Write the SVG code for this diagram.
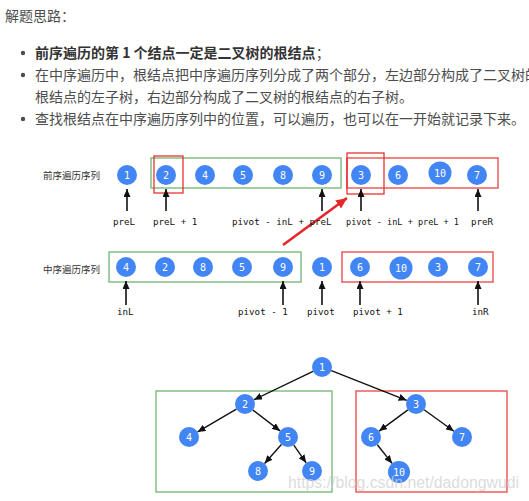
<svg xmlns="http://www.w3.org/2000/svg" width="529" height="501" viewBox="0 0 529 501">
<defs>
<style>
.txt{font-family:"Noto Sans CJK SC","Liberation Sans",sans-serif;font-size:14px;fill:#4d4d4d}
.b{font-weight:bold;fill:#333}
.lab{font-family:"Noto Sans CJK SC","Liberation Sans",sans-serif;font-size:9.5px;fill:#333}
.mono{font-family:"DejaVu Sans Mono","Liberation Mono",monospace;font-size:9.2px;fill:#111}
.nd circle{fill:#4285f4}
.nd text{font-family:"DejaVu Sans Mono","Liberation Mono",monospace;font-size:10px;fill:#fff;text-anchor:middle}
.g{fill:none;stroke:#7cba7b;stroke-width:1.4}
.r{fill:none;stroke:#ec5050;stroke-width:1.4}
.rs{fill:none;stroke:#e52222;stroke-width:1.2}
.e{stroke:#111;stroke-width:1.4;fill:none;marker-end:url(#ah)}
.up{stroke:#111;stroke-width:1.6;fill:none;marker-end:url(#ah)}
</style>
<marker id="ah" markerUnits="userSpaceOnUse" markerWidth="9" markerHeight="7" refX="8" refY="3.5" orient="auto"><path d="M0,0 L8,3.5 L0,7 z" fill="#111"/></marker>
<marker id="ahr" markerUnits="userSpaceOnUse" markerWidth="12" markerHeight="10" refX="11" refY="5" orient="auto"><path d="M0,0 L11,5 L0,10 z" fill="#e8262a"/></marker>
</defs>
<rect width="529" height="501" fill="#fff"/>
<g id="intro">
<text class="txt" x="5" y="21">解题思路：</text>
<circle cx="23" cy="53" r="2.2" fill="#4d4d4d"/>
<text class="txt" x="35" y="58"><tspan class="b">前序遍历的第 1 个结点一定是二叉树的根结点</tspan>；</text>
<circle cx="23" cy="75" r="2.2" fill="#4d4d4d"/>
<text class="txt" x="35" y="80">在中序遍历中，根结点把中序遍历序列分成了两个部分，左边部分构成了二叉树的</text>
<text class="txt" x="35" y="102">根结点的左子树，右边部分构成了二叉树的根结点的右子树。</text>
<circle cx="23" cy="119" r="2.2" fill="#4d4d4d"/>
<text class="txt" x="35" y="124">查找根结点在中序遍历序列中的位置，可以遍历，也可以在一开始就记录下来。</text>
</g>
<g id="labels">
<text class="lab" x="43" y="178.5">前序遍历序列</text>
<text class="lab" x="43" y="272.5">中序遍历序列</text>
</g>
<g id="boxes">
<rect class="g" x="151" y="158" width="190" height="30"/>
<rect class="r" x="347" y="158" width="151" height="30"/>
<rect class="rs" x="154" y="156" width="29" height="37"/>
<rect class="rs" x="347" y="153" width="37" height="41"/>
<rect class="g" x="109" y="252" width="192" height="30"/>
<rect class="r" x="342" y="252" width="151" height="30"/>
<rect class="g" x="156" y="391" width="176" height="101"/>
<rect class="r" x="356" y="391" width="151" height="101"/>
</g>
<g id="pre-nodes" class="nd">
<g id="p1"><circle cx="127" cy="175" r="10"/><text x="127" y="178.5">1</text></g>
<g id="p2"><circle cx="166" cy="175" r="10"/><text x="166" y="178.5">2</text></g>
<g id="p4"><circle cx="205" cy="175" r="10"/><text x="205" y="178.5">4</text></g>
<g id="p5"><circle cx="243" cy="175" r="10"/><text x="243" y="178.5">5</text></g>
<g id="p8"><circle cx="283" cy="175" r="10"/><text x="283" y="178.5">8</text></g>
<g id="p9"><circle cx="322" cy="175" r="10"/><text x="322" y="178.5">9</text></g>
<g id="p3"><circle cx="361" cy="175" r="10"/><text x="361" y="178.5">3</text></g>
<g id="p6"><circle cx="398" cy="175" r="10"/><text x="398" y="178.5">6</text></g>
<g id="p10"><circle cx="440" cy="173" r="11.5"/><text x="440" y="176.5">10</text></g>
<g id="p7"><circle cx="477" cy="175" r="10"/><text x="477" y="178.5">7</text></g>
</g>
<g id="in-nodes" class="nd">
<g id="i4"><circle cx="126" cy="267" r="10"/><text x="126" y="270.5">4</text></g>
<g id="i2"><circle cx="165" cy="267" r="10"/><text x="165" y="270.5">2</text></g>
<g id="i8"><circle cx="203" cy="267" r="10"/><text x="203" y="270.5">8</text></g>
<g id="i5"><circle cx="242" cy="267" r="10"/><text x="242" y="270.5">5</text></g>
<g id="i9"><circle cx="283" cy="267" r="10"/><text x="283" y="270.5">9</text></g>
<g id="i1"><circle cx="322" cy="267" r="10"/><text x="322" y="270.5">1</text></g>
<g id="i6"><circle cx="360" cy="267" r="10"/><text x="360" y="270.5">6</text></g>
<g id="i10"><circle cx="401" cy="268" r="11.5"/><text x="401" y="271.5">10</text></g>
<g id="i3"><circle cx="438" cy="267" r="10"/><text x="438" y="270.5">3</text></g>
<g id="i7"><circle cx="478" cy="267" r="10"/><text x="478" y="270.5">7</text></g>
</g>
<g id="tree-nodes" class="nd">
<g id="t1"><circle cx="322" cy="367" r="10"/><text x="322" y="370.5">1</text></g>
<g id="t2"><circle cx="245" cy="404" r="10"/><text x="245" y="407.5">2</text></g>
<g id="t4"><circle cx="189" cy="437" r="10"/><text x="189" y="440.5">4</text></g>
<g id="t5"><circle cx="288" cy="437" r="10"/><text x="288" y="440.5">5</text></g>
<g id="t8"><circle cx="258" cy="471" r="10"/><text x="258" y="474.5">8</text></g>
<g id="t9"><circle cx="312" cy="471" r="10"/><text x="312" y="474.5">9</text></g>
<g id="t3"><circle cx="416" cy="404" r="10"/><text x="416" y="407.5">3</text></g>
<g id="t6"><circle cx="371" cy="437" r="10"/><text x="371" y="440.5">6</text></g>
<g id="t7"><circle cx="462" cy="437" r="10"/><text x="462" y="440.5">7</text></g>
<g id="t10"><circle cx="399" cy="472" r="11"/><text x="399" y="475.5">10</text></g>
</g>
<g id="connectors">
<line class="up" x1="127" y1="211" x2="127" y2="189"/>
<line class="up" x1="166" y1="211" x2="166" y2="189"/>
<line class="up" x1="322" y1="211" x2="322" y2="189"/>
<line class="up" x1="361" y1="211" x2="361" y2="189"/>
<line class="up" x1="478" y1="211" x2="478" y2="189"/>
<line class="up" x1="126" y1="305" x2="126" y2="281"/>
<line class="up" x1="283" y1="305" x2="283" y2="281"/>
<line class="up" x1="322" y1="305" x2="322" y2="281"/>
<line class="up" x1="360" y1="305" x2="360" y2="281"/>
<line class="up" x1="478" y1="305" x2="478" y2="281"/>
<line x1="283" y1="245" x2="347" y2="198" stroke="#e8262a" stroke-width="2.6" marker-end="url(#ahr)"/>
<line class="e" x1="313" y1="371.3" x2="254" y2="399.7"/>
<line class="e" x1="331.3" y1="370.7" x2="406.7" y2="400.3"/>
<line class="e" x1="236.4" y1="409.1" x2="197.6" y2="431.9"/>
<line class="e" x1="252.9" y1="410.1" x2="280.1" y2="430.9"/>
<line class="e" x1="281.4" y1="444.5" x2="264.6" y2="463.5"/>
<line class="e" x1="293.8" y1="445.2" x2="306.2" y2="462.8"/>
<line class="e" x1="407.9" y1="409.9" x2="379.1" y2="431.1"/>
<line class="e" x1="424.1" y1="409.8" x2="453.9" y2="431.2"/>
<line class="e" x1="377.3" y1="444.8" x2="392.1" y2="463.4"/>
</g>
<g id="pointer-labels" class="mono">
<text x="113" y="225">preL</text>
<text x="153" y="225">preL + 1</text>
<text x="232" y="225">pivot - inL + preL</text>
<text x="346" y="225" textLength="113" lengthAdjust="spacingAndGlyphs">pivot - inL + preL + 1</text>
<text x="471" y="225">preR</text>
<text x="117" y="315">inL</text>
<text x="238" y="315">pivot - 1</text>
<text x="307" y="315">pivot</text>
<text x="353" y="315">pivot + 1</text>
<text x="472" y="315">inR</text>
</g>
<text x="288" y="488" font-family="Liberation Sans,sans-serif" font-size="16" fill="#cfcfcf" fill-opacity="0.75" textLength="231" lengthAdjust="spacingAndGlyphs">https://blog.csdn.net/dadongwudi</text>
</svg>
